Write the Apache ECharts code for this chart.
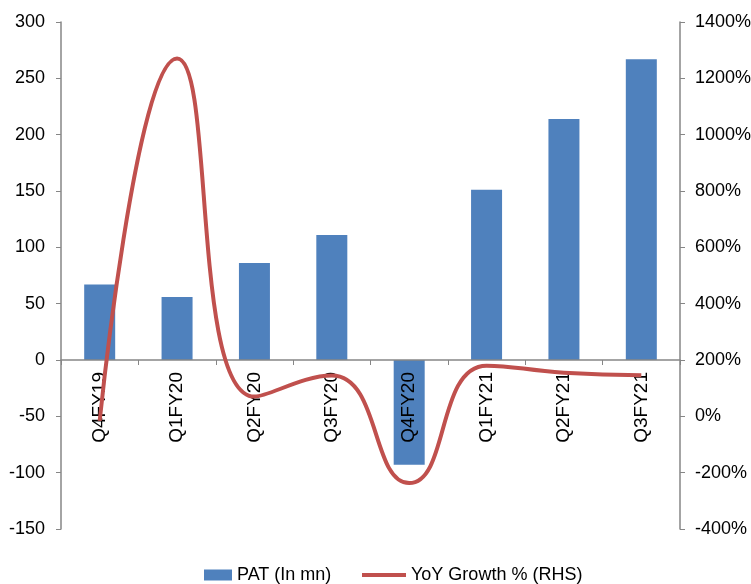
<!DOCTYPE html>
<html>
<head>
<meta charset="utf-8">
<script src="https://cdn.jsdelivr.net/npm/echarts@6/dist/echarts.min.js"></script>
<style>
  html, body { margin: 0; padding: 0; background: #fff; }
  #chart { width: 751px; height: 584px; }
</style>
</head>
<body>
<div id="chart"></div>
<script>
// data ----------------------------------------------------------
const quarters = ['Q4FY19', 'Q1FY20', 'Q2FY20', 'Q3FY20', 'Q4FY20', 'Q1FY21', 'Q2FY21', 'Q3FY21'];
const patValues = [67, 56, 86, 111, -93, 151, 214, 267];
const yoyGrowth = [-16, 1270, 70, 145, -237, 180, 155, 146];

const axisGray = '#868686';
const font = 'Liberation Sans, Arial, sans-serif';

// plot box, in px
const gridTop = 22;
const gridBottom = 55;
const plotHeight = 584 - gridTop - gridBottom;
// zero sits 6 of 9 steps down the left axis (300 .. -150)
const zeroOffset = -plotHeight * 3 / 9;

const chart = echarts.init(document.getElementById('chart'));

chart.setOption({
    animation: false,
    grid: {
        left: 61,
        right: 71,
        top: gridTop,
        bottom: gridBottom,
        outerBoundsMode: 'none'
    },
    legend: [
        {
            left: 199,
            top: 561,
            itemWidth: 28,
            itemHeight: 11,
            itemGap: 5,
            textStyle: {fontFamily: font, fontSize: 18, color: '#000'},
            data: [{name: 'PAT (In mn)', icon: 'rect'}]
        },
        {
            left: 357,
            top: 561,
            itemWidth: 44,
            itemHeight: 4,
            textStyle: {fontFamily: font, fontSize: 18, color: '#000'},
            data: [{name: 'YoY Growth % (RHS)', icon: 'rect'}]
        }
    ],
    xAxis: {
        type: 'category',
        data: quarters,
        offset: zeroOffset,
        z: 3,
        axisLine: {onZero: false, lineStyle: {color: axisGray, width: 1.5}},
        axisTick: {show: true, length: 5, lineStyle: {color: axisGray}},
        axisLabel: {
            rotate: 90,
            margin: 12,
            fontFamily: font,
            fontSize: 19,
            color: '#000',
            hideOverlap: false
        },
        splitLine: {show: false}
    },
    yAxis: [
        {
            type: 'value',
            min: -150,
            max: 300,
            interval: 50,
            axisLine: {show: true, lineStyle: {color: axisGray, width: 1.5}},
            axisTick: {show: true, length: 5, lineStyle: {color: axisGray}},
            axisLabel: {margin: 16, fontFamily: font, fontSize: 18, color: '#000'},
            splitLine: {show: false}
        },
        {
            type: 'value',
            min: -400,
            max: 1400,
            interval: 200,
            axisLine: {show: true, lineStyle: {color: axisGray, width: 1.5}},
            axisTick: {show: true, length: 5, lineStyle: {color: axisGray}},
            axisLabel: {
                margin: 15,
                fontFamily: font,
                fontSize: 18,
                color: '#000',
                formatter: (v) => v + '%'
            },
            splitLine: {show: false}
        }
    ],
    series: [
        {
            name: 'PAT (In mn)',
            type: 'bar',
            data: patValues,
            barWidth: 31,
            z: 2,
            itemStyle: {color: '#4f81bd'}
        },
        {
            name: 'YoY Growth % (RHS)',
            type: 'line',
            yAxisIndex: 1,
            data: yoyGrowth,
            smooth: 0.5,
            z: 5,
            showSymbol: false,
            symbol: 'none',
            lineStyle: {color: '#c0504d', width: 4},
            itemStyle: {color: '#c0504d'}
        }
    ]
});
</script>
</body>
</html>
